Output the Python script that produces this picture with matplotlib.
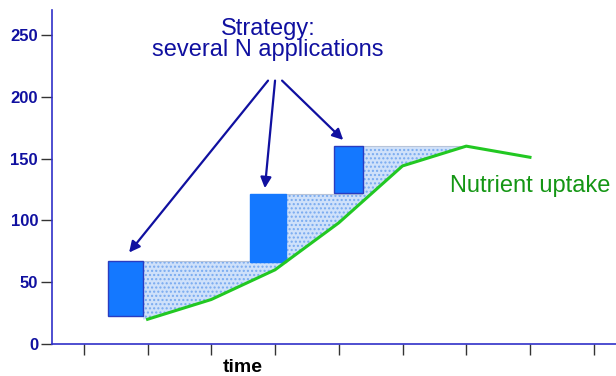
import numpy as np
import matplotlib.pyplot as plt

plt.rcParams['font.family'] = ['Liberation Sans', 'DejaVu Sans']

# nutrient uptake curve
uptake_t = [2, 3, 4, 5, 6, 7, 8]
uptake_n = [20, 36, 60, 98, 144, 160, 151]

# N applications (blocks)
app_left = [1.38, 3.61, 4.93]
app_right = [1.93, 4.17, 5.38]
app_bottom = [23, 66, 122]
app_top = [67, 121, 160]

# arrows from the strategy label to each block
arrow_from_x = [3.89, 4.0, 4.11]
arrow_from_y = [213, 213, 213]
arrow_to_x = [1.71, 3.84, 5.07]
arrow_to_y = [74, 126, 165]

yticks = [0, 50, 100, 150, 200, 250]
xticks = [1, 2, 3, 4, 5, 6, 7, 8, 9]

navy = '#1010a0'
bar_blue = '#1478ff'
green_line = '#22c822'
green_text = '#149614'

fig = plt.figure(figsize=(6.16, 3.76), dpi=100)
ax = fig.add_axes([0.0844, 0.0851, 0.9156, 0.888])

t = np.array(uptake_t, dtype=float)
n = np.array(uptake_n, dtype=float)
rise = slice(0, int(np.argmax(n)) + 1)

# shaded surplus between each application level and the uptake curve
for start, level in zip(app_right, app_top):
    end = np.interp(level, n[rise], t[rise])
    xs = np.linspace(start, end, 200)
    ax.fill_between(xs, np.interp(xs, t, n), level, facecolor='#cfe1fa',
                    edgecolor='#78aaf0', hatch='....', linewidth=0, zorder=1)
    ax.plot([start, end], [level, level], color='#b8c4d8', lw=0.8, zorder=1)

widths = np.array(app_right) - np.array(app_left)
heights = np.array(app_top) - np.array(app_bottom)
ax.bar(app_left, heights, width=widths, bottom=app_bottom, align='edge',
       color=bar_blue, edgecolor=['#2a3cc0', bar_blue, '#2a3cc0'],
       linewidth=1, zorder=3)

ax.plot(uptake_t, uptake_n, color=green_line, lw=2.2, zorder=4)

for x0, y0, x1, y1 in zip(arrow_from_x, arrow_from_y, arrow_to_x, arrow_to_y):
    ax.annotate('', xy=(x1, y1), xytext=(x0, y0),
                arrowprops=dict(arrowstyle='-|>', color=navy, lw=1.6,
                                mutation_scale=16, shrinkA=0, shrinkB=0))

ax.text(3.89, 246, 'Strategy:\nseveral N applications', ha='center',
        va='center', fontsize=17, color=navy, linespacing=0.95)
ax.text(6.75, 128, 'Nutrient uptake', ha='left', va='center',
        fontsize=17, color=green_text)
ax.text(3.5, -19, 'time', ha='center', va='center', fontsize=14,
        fontweight='bold', color='black', clip_on=False)

ax.set_xlim(0.5, 9.35)
ax.set_ylim(0, 270)
ax.set_xticks(xticks)
ax.set_xticklabels([])
ax.set_yticks(yticks)
ax.set_yticklabels([str(v) for v in yticks], fontsize=12,
                   fontweight='bold', color=navy)
ax.tick_params(axis='both', direction='out', length=8, width=1,
               color='#333333', pad=2)

for side in ['top', 'right']:
    ax.spines[side].set_visible(False)
for side in ['left', 'bottom']:
    ax.spines[side].set_color('#3030c8')
    ax.spines[side].set_linewidth(1.2)

fig.savefig('out.png', dpi=100)
